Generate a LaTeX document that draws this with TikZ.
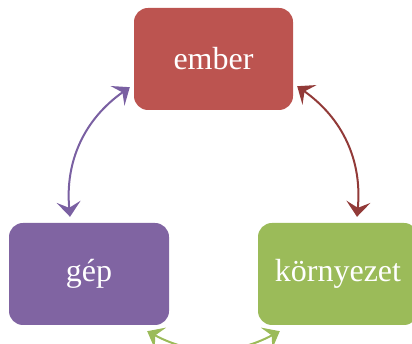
\documentclass[tikz,border=0pt]{standalone}
\usepackage{fontspec}
\setmainfont{Liberation Serif}
\usetikzlibrary{arrows.meta}
\definecolor{emberred}{RGB}{188,84,80}
\definecolor{geppurple}{RGB}{128,100,162}
\definecolor{kornygreen}{RGB}{155,187,89}
\definecolor{arrowred}{RGB}{146,58,56}
\definecolor{arrowpurple}{RGB}{122,96,162}

\begin{document}
\begin{tikzpicture}
    [x=1pt,y=1pt,
     box/.style={rectangle,rounded corners=14pt,minimum width=160pt,minimum height=102pt,
                 text=white,font=\fontsize{32}{38}\selectfont},
     link/.style={line width=2pt,{Stealth[length=15pt,width=24pt,inset=6pt]}-{Stealth[length=15pt,width=24pt,inset=6pt]}}]

    \useasboundingbox (0,0) rectangle (412,344);
\node[box,fill=emberred,minimum width=159pt] (ember) at (213.5,285) {ember};
\node[box,fill=geppurple] (gep) at (89,70) {gép};
\node[box,fill=kornygreen] (korny) at (338,70) {környezet};

\draw[link,arrowpurple] ([xshift=-19pt,yshift=6pt]gep.north) to[bend left=30] ([xshift=-4pt,yshift=23pt]ember.south west);
\draw[link,arrowred] ([xshift=4pt,yshift=24pt]ember.south east) to[bend left=30] ([xshift=19pt,yshift=6pt]korny.north);
\draw[link,kornygreen] ([xshift=22pt,yshift=-6pt]korny.south west) to[bend left=28] ([xshift=-22pt,yshift=-6pt]gep.south east);

  \end{tikzpicture}
\end{document}
